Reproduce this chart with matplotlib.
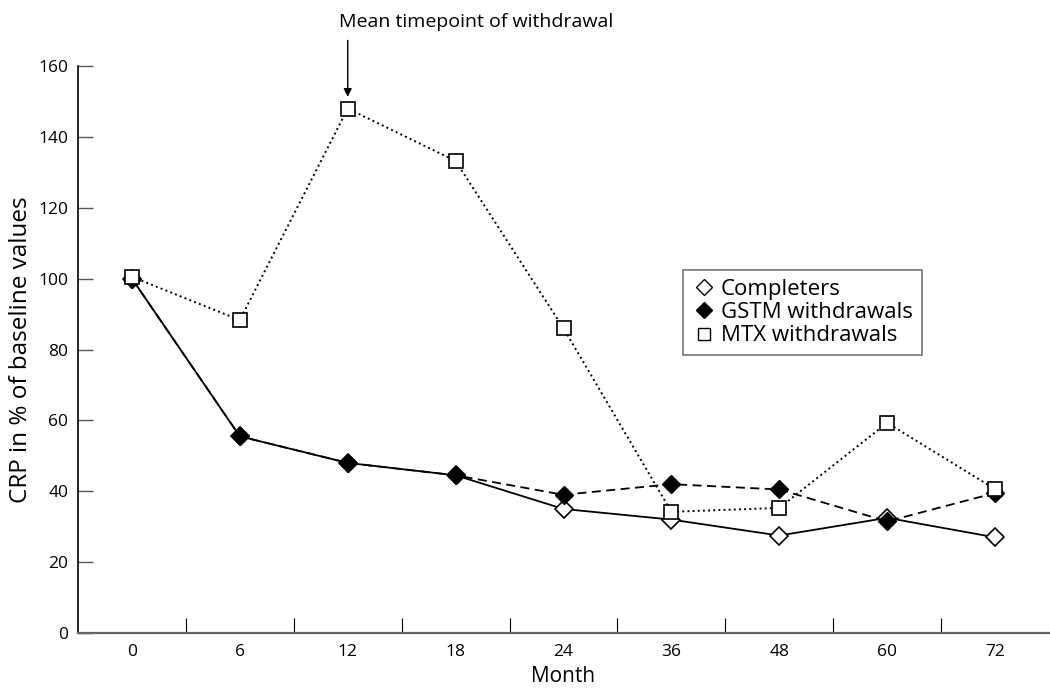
import matplotlib
matplotlib.use("Agg")
import matplotlib.pyplot as plt
from matplotlib.ticker import FixedLocator
from matplotlib.lines import Line2D

plt.rcParams['font.family'] = ['Open Sans', 'DejaVu Sans']

months = ["0", "6", "12", "18", "24", "36", "48", "60", "72"]
completers = [100, 55.5, 48, 44.5, 35, 32, 27.5, 32.5, 27]
gstm = [100, 55.5, 48, 44.5, 39, 42, 40.5, 31.5, 39.5]
mtx = [100.5, 88.3, 148, 133.2, 86, 34.2, 35.3, 59.3, 40.6]
yticks = [0, 20, 40, 60, 80, 100, 120, 140, 160]

fig = plt.figure(figsize=(10.5, 6.88), dpi=100)
ax = fig.add_axes([78/1050, 55/688, (1049-78)/1050, (633-66)/688])
x = list(range(len(months)))

ax.plot(x, completers, '-', color='black', lw=1.3, marker='D', ms=9,
        mfc='white', mec='black', mew=1.2, zorder=3)
ax.plot(x, gstm, '--', color='black', lw=1.3, dashes=(5, 3), marker='D', ms=9.5,
        mfc='black', mec='black', zorder=4)
ax.plot(x, mtx, ':', color='black', lw=1.4, marker='s', ms=10.5,
        mfc='white', mec='black', mew=1.2, zorder=5)

ax.set_xlim(-0.5, len(months) - 0.5)
ax.set_ylim(0, 160)
ax.set_xticks(x)
ax.set_xticklabels(months, fontsize=12.5)
ax.tick_params(axis='x', which='major', length=0, pad=8)
ax.xaxis.set_minor_locator(FixedLocator([i + 0.5 for i in range(len(months) - 1)]))
ax.tick_params(axis='x', which='minor', direction='in', length=11, width=0.8, color='black')
ax.set_yticks(yticks)
ax.set_yticklabels([str(v) for v in yticks], fontsize=12.5)
ax.tick_params(axis='y', direction='in', length=11, width=1.0, color='#555555', pad=7)

for s in ['top', 'right']:
    ax.spines[s].set_visible(False)
ax.spines['left'].set_linewidth(1.2)
ax.spines['bottom'].set_linewidth(1.6)
ax.spines['bottom'].set_color('#666666')

ax.set_xlabel("Month", fontsize=15, labelpad=4)
ax.set_ylabel("CRP in % of baseline values", fontsize=17.5, labelpad=4)

handles = [
    Line2D([], [], ls='none', marker='D', ms=8.5, mfc='white', mec='black', mew=1.0),
    Line2D([], [], ls='none', marker='D', ms=8.5, mfc='black', mec='black'),
    Line2D([], [], ls='none', marker='s', ms=8.5, mfc='white', mec='black', mew=1.0),
]
leg = ax.legend(handles, ["Completers", "GSTM withdrawals", "MTX withdrawals"],
                loc='upper left', bbox_to_anchor=((683-78)/(1049-78), (633-270)/(633-66)),
                fontsize=16, frameon=True, fancybox=False, handlelength=1.1,
                handletextpad=0.2, borderpad=0.4, labelspacing=0.1, borderaxespad=0)
leg.get_frame().set_edgecolor('#555555')
leg.get_frame().set_linewidth(1.2)

ax.annotate("", xy=(2, 150.5), xytext=(2, 168), annotation_clip=False,
            arrowprops=dict(arrowstyle='-|>', color='black', lw=1.0, mutation_scale=12))
ax.text(1.92, 170, "Mean timepoint of withdrawal", fontsize=14, ha='left', va='bottom',
        clip_on=False)

fig.savefig("out.png", dpi=100)
